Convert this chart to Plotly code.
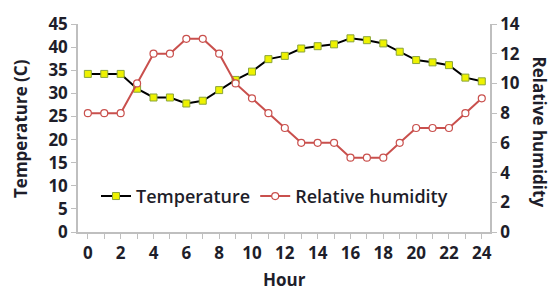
import plotly.graph_objects as go

hours = list(range(25))
temperature = [34.2, 34.2, 34.2, 31.0, 29.1, 29.1, 27.8, 28.4, 30.7, 32.9, 34.7, 37.4, 38.1,
               39.7, 40.2, 40.6, 41.9, 41.5, 40.8, 39.0, 37.2, 36.7, 36.1, 33.4, 32.6]
humidity = [8, 8, 8, 10, 12, 12, 13, 13, 12, 10, 9, 8, 7, 6, 6, 6, 5, 5, 5, 6, 7, 7, 7, 8, 9]
x_ticks = list(range(0, 25, 2))
left_ticks = list(range(0, 46, 5))
right_ticks = list(range(0, 15, 2))

FONT = "Open Sans"
TXT = "#1e1e2a"
AX = "#bfbfbf"

# plot area in pixels
L, R, T, B = 78, 490, 22, 232
W, H = 552, 291
PW, PH = R - L, B - T


def px(x):
    return (x - L) / PW


def py(y):
    return (B - y) / PH


fig = go.Figure()
fig.add_trace(go.Scatter(
    x=hours, y=temperature, name="Temperature", mode="lines+markers",
    line=dict(color="black", width=2),
    marker=dict(symbol="square", size=7, color="#eef200", line=dict(color="#8aa43a", width=1)),
))
fig.add_trace(go.Scatter(
    x=hours, y=humidity, name="Relative humidity", mode="lines+markers", yaxis="y2",
    line=dict(color="#c9504d", width=2),
    marker=dict(symbol="circle", size=7, color="white", line=dict(color="#c9504d", width=1.2)),
))

tickfont = dict(family=FONT, size=17, color=TXT, weight="bold")
titlefont = dict(family=FONT, size=17, color=TXT, weight="bold")
fig.update_layout(
    width=W, height=H,
    margin=dict(l=L, r=W - R, t=T, b=H - B),
    plot_bgcolor="white", paper_bgcolor="white",
    showlegend=True,
    legend=dict(orientation="h", x=px(96), y=py(196), xanchor="left", yanchor="middle",
                font=dict(family=FONT, size=18, color=TXT, weight=600), bgcolor="rgba(0,0,0,0)",
                itemwidth=30, tracegroupgap=0),
    xaxis=dict(range=[-0.6, 24.5], tickvals=x_ticks, ticktext=[str(v) for v in x_ticks],
               showgrid=False, zeroline=False, showline=True, linecolor=AX, linewidth=1.5,
               ticks="outside", ticklen=5, tickcolor=AX,
               minor=dict(dtick=1, tick0=0, ticks="outside", ticklen=5, tickcolor=AX),
               tickfont=tickfont),
    yaxis=dict(range=[0, 45], tickvals=left_ticks, showgrid=False, zeroline=False,
               showline=True, linecolor=AX, linewidth=1.5, ticks="outside", ticklen=5, tickcolor=AX,
               tickfont=tickfont),
    yaxis2=dict(range=[0, 14], tickvals=right_ticks, overlaying="y", side="right",
                showgrid=False, zeroline=False, showline=True, linecolor=AX, linewidth=1.5,
                ticks="outside", ticklen=5, tickcolor=AX, tickfont=tickfont),
    annotations=[
        dict(text="Temperature (C)", textangle=-90, x=px(21), y=py(128), xref="paper", yref="paper",
             xanchor="center", yanchor="middle", showarrow=False, font=titlefont, borderpad=0),
        dict(text="Relative humidity", textangle=90, x=px(539.5), y=py(131), xref="paper", yref="paper",
             xanchor="center", yanchor="middle", showarrow=False, font=titlefont, borderpad=0),
        dict(text="Hour", x=px(284), y=py(279.5), xref="paper", yref="paper",
             xanchor="center", yanchor="middle", showarrow=False, font=titlefont, borderpad=0),
    ],
)
fig.write_html("out.html", config={"displayModeBar": False},
               post_script="document.body.style.margin='0';document.body.style.overflow='hidden';")
